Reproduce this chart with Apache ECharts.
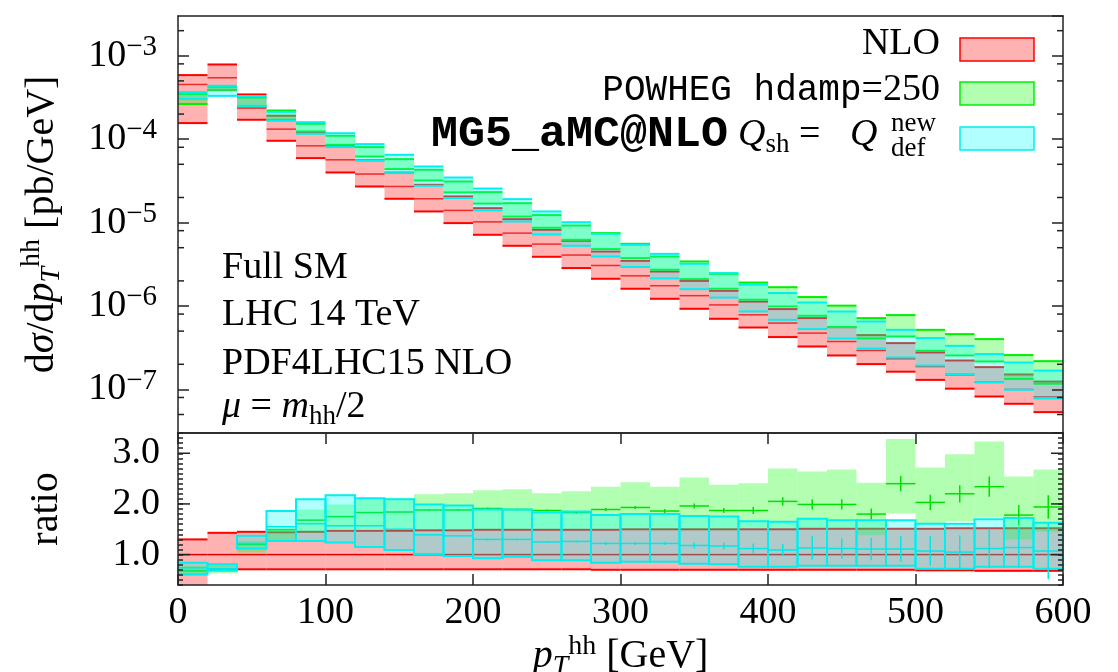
<!DOCTYPE html>
<html><head><meta charset="utf-8">
<script src="https://cdn.jsdelivr.net/npm/echarts@6/dist/echarts.min.js"></script>
<style>html,body{margin:0;padding:0;background:#fff}#c{width:1118px;height:672px}</style>
</head><body><div id="c"></div>
<script>
// ---------------- data ----------------
const binEdges = [0,20,40,60,80,100,120,140,160,180,200,220,240,260,280,300,320,340,360,380,400,420,440,460,480,500,520,540,560,580,600];

// upper panel: dsigma/dpT [pb/GeV]
const nloHi = [5.87e-4,7.87e-4,3.44e-4,1.91e-4,1.21e-4,8.33e-5,5.60e-5,3.98e-5,2.84e-5,2.06e-5,1.49e-5,1.10e-5,8.20e-6,6.05e-6,4.50e-6,3.48e-6,2.59e-6,2.00e-6,1.52e-6,1.13e-6,9.18e-7,7.16e-7,5.58e-7,4.48e-7,3.59e-7,2.77e-7,2.22e-7,1.85e-7,1.51e-7,1.24e-7];
const nloC  = [4.53e-4,5.45e-4,2.36e-4,1.32e-4,8.33e-5,5.66e-5,3.82e-5,2.71e-5,1.93e-5,1.40e-5,1.02e-5,7.48e-6,5.52e-6,4.08e-6,3.06e-6,2.30e-6,1.75e-6,1.33e-6,1.03e-6,7.84e-7,6.24e-7,4.73e-7,3.75e-7,2.93e-7,2.33e-7,1.88e-7,1.50e-7,1.22e-7,1.00e-7,8.15e-8];
const nloLo = [1.56e-4,3.87e-4,1.71e-4,9.57e-5,5.93e-5,3.99e-5,2.71e-5,1.93e-5,1.36e-5,9.86e-6,7.14e-6,5.27e-6,3.89e-6,2.85e-6,2.12e-6,1.61e-6,1.22e-6,9.26e-7,7.02e-7,5.52e-7,4.24e-7,3.27e-7,2.55e-7,2.01e-7,1.63e-7,1.30e-7,1.02e-7,8.22e-8,6.72e-8,5.34e-8];

const powHi = [3.47e-4,4.25e-4,3.16e-4,2.21e-4,1.53e-4,1.10e-4,8.04e-5,5.77e-5,4.30e-5,3.11e-5,2.32e-5,1.71e-5,1.23e-5,9.23e-6,7.48e-6,5.57e-6,3.92e-6,3.42e-6,2.43e-6,1.91e-6,1.68e-6,1.28e-6,1.01e-6,7.16e-7,7.78e-7,5.18e-7,4.60e-7,4.01e-7,2.58e-7,2.18e-7];
const powC  = [2.97e-4,4.08e-4,2.81e-4,1.96e-4,1.37e-4,9.70e-5,7.06e-5,5.07e-5,3.69e-5,2.69e-5,1.98e-5,1.42e-5,1.04e-5,7.65e-6,6.05e-6,4.59e-6,3.30e-6,2.72e-6,1.98e-6,1.52e-6,1.30e-6,1.01e-6,7.63e-7,5.48e-7,5.90e-7,3.93e-7,3.43e-7,3.07e-7,1.92e-7,1.58e-7];
const powLo = [2.64e-4,3.91e-4,2.47e-4,1.71e-4,1.24e-4,8.57e-5,6.20e-5,4.38e-5,3.20e-5,2.30e-5,1.69e-5,1.18e-5,8.66e-6,6.22e-6,4.81e-6,3.75e-6,2.72e-6,2.10e-6,1.61e-6,1.19e-6,9.86e-7,7.63e-7,5.58e-7,4.08e-7,4.31e-7,2.90e-7,2.55e-7,2.16e-7,1.33e-7,1.17e-7];

const mgHi = [3.67e-4,4.37e-4,3.27e-4,2.13e-4,1.60e-4,1.18e-4,8.73e-5,6.50e-5,4.71e-5,3.47e-5,2.56e-5,1.91e-5,1.36e-5,1.01e-5,7.34e-6,5.42e-6,4.22e-6,3.21e-6,2.48e-6,1.80e-6,1.43e-6,1.10e-6,8.59e-7,6.52e-7,5.18e-7,4.12e-7,3.33e-7,2.65e-7,2.10e-7,1.68e-7];
const mgC  = [3.31e-4,3.81e-4,2.85e-4,1.91e-4,1.33e-4,9.57e-5,6.87e-5,4.93e-5,3.54e-5,2.54e-5,1.88e-5,1.39e-5,9.95e-6,7.34e-6,5.42e-6,4.00e-6,3.03e-6,2.30e-6,1.80e-6,1.25e-6,1.01e-6,7.63e-7,5.95e-7,4.52e-7,3.52e-7,2.82e-7,2.26e-7,1.82e-7,1.46e-7,1.20e-7];
const mgLo = [3.03e-4,3.31e-4,2.51e-4,1.66e-4,1.16e-4,8.04e-5,5.55e-5,3.92e-5,2.76e-5,1.97e-5,1.40e-5,1.03e-5,7.20e-6,5.27e-6,3.92e-6,2.93e-6,2.14e-6,1.59e-6,1.26e-6,8.59e-7,6.83e-7,5.28e-7,4.08e-7,3.09e-7,2.41e-7,1.93e-7,1.53e-7,1.21e-7,9.89e-8,7.78e-8];

// lower panel: ratio to NLO central
const rNloLo = [0.34,0.71,0.71,0.71,0.71,0.71,0.71,0.71,0.71,0.71,0.71,0.71,0.71,0.71,0.70,0.70,0.70,0.70,0.70,0.70,0.70,0.70,0.70,0.70,0.70,0.69,0.69,0.68,0.68,0.68];
const rNloC  = [1,1,1,1,1,1,1,1,1,1,1,1,1,1,1,1,1,1,1,1,1,1,1,1,1,1,1,1,1,1];
const rNloHi = [1.30,1.43,1.45,1.44,1.45,1.47,1.47,1.47,1.48,1.48,1.49,1.49,1.49,1.49,1.49,1.50,1.50,1.50,1.50,1.50,1.50,1.51,1.51,1.51,1.51,1.51,1.52,1.52,1.52,1.52];

const rPowHi = [0.78,0.79,1.27,1.53,1.89,1.99,2.11,2.12,2.19,2.21,2.27,2.29,2.21,2.25,2.34,2.43,2.34,2.52,2.38,2.41,2.70,2.64,2.68,2.42,3.28,2.72,2.98,3.23,2.54,2.68];
const rPowC  = [0.68,0.71,1.20,1.49,1.68,1.75,1.83,1.84,1.88,1.88,1.91,1.89,1.87,1.83,1.89,1.93,1.86,1.96,1.87,1.87,2.05,1.99,1.99,1.80,2.40,2.03,2.20,2.34,1.78,1.94];
const rPowLo = [0.58,0.63,1.04,1.27,1.43,1.50,1.50,1.50,1.50,1.50,1.50,1.50,1.50,1.50,1.50,1.50,1.50,1.50,1.50,1.52,1.52,1.52,1.52,1.38,1.81,1.61,1.66,1.73,1.30,1.45];
const rPowErr = [0.01,0.01,0.01,0.01,0.01,0.01,0.01,0.01,0.02,0.02,0.02,0.02,0.02,0.03,0.03,0.03,0.04,0.05,0.05,0.07,0.08,0.10,0.10,0.11,0.15,0.15,0.17,0.20,0.20,0.23];

const rMgHi = [0.84,0.81,1.37,1.86,2.09,2.17,2.11,2.09,1.99,1.97,1.89,1.89,1.83,1.85,1.78,1.80,1.80,1.76,1.75,1.66,1.65,1.71,1.68,1.68,1.68,1.61,1.61,1.70,1.72,1.63];
const rMgC  = [0.74,0.72,1.22,1.55,1.61,1.57,1.57,1.50,1.39,1.37,1.30,1.30,1.25,1.26,1.22,1.22,1.22,1.18,1.17,1.12,1.09,1.13,1.12,1.11,1.11,1.07,1.05,1.12,1.14,1.07];
const rMgLo = [0.61,0.68,1.12,1.27,1.27,1.24,1.15,1.09,1.01,0.97,0.93,0.96,0.89,0.89,0.84,0.86,0.86,0.82,0.81,0.76,0.76,0.78,0.78,0.78,0.78,0.72,0.72,0.76,0.76,0.72];
const rMgErr = [0.01,0.01,0.01,0.01,0.01,0.01,0.01,0.01,0.01,0.01,0.02,0.02,0.02,0.02,0.03,0.03,0.03,0.06,0.07,0.10,0.12,0.23,0.20,0.22,0.25,0.29,0.33,0.39,0.40,0.55];

// tick positions drawn in addition to the axis' own ticks
const logMinorTicks = [2e-3,8e-4,5e-4,2e-4,8e-5,5e-5,2e-5,8e-6,5e-6,2e-6,8e-7,5e-7,2e-7,8e-8,5e-8];
const ratioMajorTicks = [1,2,3];

// ---------------- chart ----------------
const SERIF = 'Liberation Serif';
const MONO = 'Liberation Mono';
const FS = 38;

function rows(lo, c, hi, err) {
  return lo.map((v, i) => [binEdges[i], binEdges[i + 1], v, c[i], hi[i], err ? err[i] : 0]);
}

function bandRenderer(o) {
  return function (params, api) {
    const cs = params.coordSys;
    const top = cs.y, bot = cs.y + cs.height;
    const cl = y => Math.max(top, Math.min(bot, y));
    const x0 = api.value(0), x1 = api.value(1);
    const lo = api.value(2), c = api.value(3), hi = api.value(4), err = api.value(5);
    const pa = api.coord([x0, hi]), pb = api.coord([x1, lo]);
    const xa = pa[0], xb = pb[0];
    const yh = cl(pa[1]), yl = cl(pb[1]);
    const yc = api.coord([x0, c])[1];
    const ch = [];
    ch.push({type: 'rect', shape: {x: xa, y: yh, width: xb - xa, height: yl - yh},
      style: {fill: o.fill, stroke: o.box ? o.edge : null, lineWidth: o.box ? o.edgeWidth : 0}});
    if (o.edges) {
      if (pa[1] >= top) ch.push({type: 'line', shape: {x1: xa, y1: yh, x2: xb, y2: yh}, style: {stroke: o.edge, lineWidth: o.edgeWidth}});
      if (pb[1] <= bot) ch.push({type: 'line', shape: {x1: xa, y1: yl, x2: xb, y2: yl}, style: {stroke: o.edge, lineWidth: o.edgeWidth}});
    }
    if (o.center) {
      ch.push({type: 'line', shape: {x1: xa, y1: yc, x2: xb, y2: yc}, style: {stroke: o.centerColor, lineWidth: o.centerWidth}});
    }
    if (o.err && err > 0) {
      const xm = (xa + xb) / 2;
      const e1 = cl(api.coord([x0, c + err])[1]);
      const e2 = cl(api.coord([x0, c - err])[1]);
      ch.push({type: 'line', shape: {x1: xm, y1: e1, x2: xm, y2: e2}, style: {stroke: o.centerColor, lineWidth: o.centerWidth}});
    }
    return {type: 'group', children: ch};
  };
}

function band(name, gi, data, o) {
  return {
    type: 'custom', name: name, xAxisIndex: gi * 2, yAxisIndex: gi * 2,
    dimensions: ['x0', 'x1', 'lo', 'c', 'hi', 'err'],
    encode: {x: ['x0', 'x1'], y: ['lo', 'hi']},
    data: data, renderItem: bandRenderer(o), silent: true, animation: false
  };
}

const RED = {fill: 'rgba(255,0,0,0.3)', edge: '#ff0000', edgeWidth: 2};
const GRN = {fill: 'rgba(0,255,0,0.3)', edge: '#00f000', edgeWidth: 2};
const CYN = {fill: 'rgba(0,255,255,0.3)', edge: '#00f0f0', edgeWidth: 2};

const richBase = {
  sup: {fontFamily: SERIF, fontSize: 27, verticalAlign: 'top', lineHeight: 22},
  sub: {fontFamily: SERIF, fontSize: 27, verticalAlign: 'bottom', lineHeight: 22},
  subi: {fontFamily: SERIF, fontSize: 27, fontStyle: 'italic', verticalAlign: 'bottom', lineHeight: 22},
  i: {fontFamily: SERIF, fontSize: FS, fontStyle: 'italic', lineHeight: 46},
  r: {fontFamily: SERIF, fontSize: FS, lineHeight: 46}
};
const richBig = {
  sup: {fontFamily: SERIF, fontSize: 28, verticalAlign: 'top', lineHeight: 22},
  sub: {fontFamily: SERIF, fontSize: 28, verticalAlign: 'bottom', lineHeight: 22},
  subi: {fontFamily: SERIF, fontSize: 28, fontStyle: 'italic', verticalAlign: 'bottom', lineHeight: 22},
  i: {fontFamily: SERIF, fontSize: 40, fontStyle: 'italic', lineHeight: 48},
  r: {fontFamily: SERIF, fontSize: 40, lineHeight: 48}
};

function tickSeries(gi, vals, len) {
  return {
    type: 'custom', xAxisIndex: gi * 2, yAxisIndex: gi * 2, silent: true, animation: false, z: 20,
    data: vals.map(v => [0, v]), encode: {x: 0, y: 1},
    renderItem: function (params, api) {
      const cs = params.coordSys;
      const y = api.coord([0, api.value(1)])[1];
      return {type: 'group', children: [
        {type: 'line', shape: {x1: cs.x, y1: y, x2: cs.x + len, y2: y}, style: {stroke: '#222', lineWidth: 1.5}},
        {type: 'line', shape: {x1: cs.x + cs.width - len, y1: y, x2: cs.x + cs.width, y2: y}, style: {stroke: '#222', lineWidth: 1.5}}
      ]};
    }
  };
}

const axisLine = {show: true, onZero: false, lineStyle: {color: '#222', width: 1.5}};
const L = 178, R = 55;

const option = {
  backgroundColor: '#fff',
  animation: false,
  grid: [
    {left: L, right: R, top: 16, height: 417, containLabel: false, outerBoundsMode: 'none'},
    {left: L, right: R, top: 433, height: 152, containLabel: false, outerBoundsMode: 'none'}
  ],
  xAxis: [
    {gridIndex: 0, type: 'value', min: 0, max: 600, interval: 100, position: 'bottom', z: 10,
      axisLine: axisLine, axisTick: {show: false}, axisLabel: {show: false}, splitLine: {show: false}},
    {gridIndex: 0, type: 'value', min: 0, max: 600, interval: 100, position: 'top', z: 10,
      axisLine: axisLine, axisTick: {show: false}, axisLabel: {show: false}, splitLine: {show: false}},
    {gridIndex: 1, type: 'value', min: 0, max: 600, interval: 100, position: 'bottom', z: 10,
      axisLine: axisLine, axisTick: {show: true, inside: true, length: 11, lineStyle: {color: '#222', width: 1.5}},
      axisLabel: {show: true, margin: 9, color: '#000', fontFamily: SERIF, fontSize: FS},
      splitLine: {show: false},
      name: '{i|p}{subi|T}{sup|hh} [GeV]', nameLocation: 'middle', nameGap: 42,
      nameTextStyle: {color: '#000', fontFamily: SERIF, fontSize: 40, lineHeight: 48, rich: richBig}},
    {gridIndex: 1, type: 'value', min: 0, max: 600, interval: 100, position: 'top', z: 10,
      axisLine: axisLine, axisTick: {show: true, inside: true, length: 11, lineStyle: {color: '#222', width: 1.5}},
      axisLabel: {show: false}, splitLine: {show: false}}
  ],
  yAxis: [
    {gridIndex: 0, type: 'log', logBase: 10, min: 3e-8, max: 3e-3, position: 'left', z: 10,
      axisLine: axisLine, axisTick: {show: true, inside: true, length: 11, lineStyle: {color: '#222', width: 1.5}},
      splitLine: {show: false},
      axisLabel: {show: true, margin: 21, color: '#000', fontFamily: SERIF, fontSize: FS, lineHeight: 46, rich: {
          sup: {fontFamily: SERIF, fontSize: 29, verticalAlign: 'top', lineHeight: 22}},
        showMinLabel: false, showMaxLabel: false,
        formatter: function (v) {
          const e = Math.log10(v); const n = Math.round(e);
          if (Math.abs(e - n) > 0.01) return '';
          return '10{sup|−' + (-n) + '}';
        }},
      name: 'd{i|σ}/d{i|p}{subi|T}{sup|hh} [pb/GeV]', nameLocation: 'middle', nameGap: 112, nameRotate: 90,
      nameTextStyle: {color: '#000', fontFamily: SERIF, fontSize: 40, lineHeight: 48, rich: richBig}},
    {gridIndex: 0, type: 'log', logBase: 10, min: 3e-8, max: 3e-3, position: 'right', z: 10,
      axisLine: axisLine, axisTick: {show: true, inside: true, length: 11, lineStyle: {color: '#222', width: 1.5}},
      splitLine: {show: false}, axisLabel: {show: false}},
    {gridIndex: 1, type: 'value', min: 0.4, max: 3.4, interval: 0.1, position: 'left', z: 10,
      axisLine: axisLine, axisTick: {show: true, inside: true, length: 5, lineStyle: {color: '#222', width: 1.5}},
      splitLine: {show: false},
      axisLabel: {show: true, margin: 18, color: '#000', fontFamily: SERIF, fontSize: FS,
        formatter: function (v) { return Math.abs(v - Math.round(v)) < 1e-6 ? Math.round(v).toFixed(1) : ''; }},
      name: 'ratio', nameLocation: 'middle', nameGap: 112, nameRotate: 90,
      nameTextStyle: {color: '#000', fontFamily: SERIF, fontSize: 40}},
    {gridIndex: 1, type: 'value', min: 0.4, max: 3.4, interval: 0.1, position: 'right', z: 10,
      axisLine: axisLine, axisTick: {show: true, inside: true, length: 5, lineStyle: {color: '#222', width: 1.5}},
      splitLine: {show: false}, axisLabel: {show: false}}
  ],
  series: [
    band('NLO', 0, rows(nloLo, nloC, nloHi), Object.assign({}, RED, {edges: true, center: true, centerColor: 'rgba(230,0,0,0.75)', centerWidth: 1.5})),
    band('POWHEG', 0, rows(powLo, powC, powHi), Object.assign({}, GRN, {edges: true})),
    band('MG5', 0, rows(mgLo, mgC, mgHi), Object.assign({}, CYN, {edges: true})),
    band('NLO', 1, rows(rNloLo, rNloC, rNloHi), Object.assign({}, RED, {edges: true, center: true, centerColor: '#e00000', centerWidth: 1.5})),
    band('POWHEG', 1, rows(rPowLo, rPowC, rPowHi, rPowErr), Object.assign({}, GRN, {center: true, err: true, centerColor: '#00e000', centerWidth: 1.5})),
    band('MG5', 1, rows(rMgLo, rMgC, rMgHi, rMgErr), Object.assign({}, CYN, {box: true, center: true, err: true, centerColor: '#00e8e8', centerWidth: 1.5})),
    tickSeries(0, logMinorTicks, 6),
    tickSeries(1, ratioMajorTicks, 12)
  ],
  graphic: [
    {type: 'text', z: 30, style: {x: 222, y: 268, text: 'Full SM', fontFamily: SERIF, fontSize: FS, fill: '#000', verticalAlign: 'middle'}},
    {type: 'text', z: 30, style: {x: 222, y: 315, text: 'LHC 14 TeV', fontFamily: SERIF, fontSize: FS, fill: '#000', verticalAlign: 'middle'}},
    {type: 'text', z: 30, style: {x: 222, y: 364, text: 'PDF4LHC15 NLO', fontFamily: SERIF, fontSize: FS, fill: '#000', verticalAlign: 'middle'}},
    {type: 'text', z: 30, style: {x: 222, y: 407, text: '{i|μ} {r|=} {i|m}{sub|hh}{r|/2}', fontFamily: SERIF, fontSize: FS, lineHeight: 46, rich: richBase, fill: '#000', verticalAlign: 'middle'}},
    // legend
    {type: 'text', z: 30, style: {x: 940, y: 44, text: 'NLO', fontFamily: SERIF, fontSize: FS, fill: '#000', align: 'right', verticalAlign: 'middle'}},
    {type: 'rect', z: 30, shape: {x: 960, y: 38, width: 74, height: 23}, style: {fill: 'rgba(255,0,0,0.3)', stroke: '#ff0000', lineWidth: 1.5}},
    {type: 'text', z: 30, style: {x: 940, y: 90, text: '{tt|POWHEG hdamp}{r|=250}', align: 'right', verticalAlign: 'middle', fill: '#000',
      rich: {tt: {fontFamily: MONO, fontSize: 36, lineHeight: 46}, r: {fontFamily: SERIF, fontSize: FS, lineHeight: 46}}}},
    {type: 'rect', z: 30, shape: {x: 960, y: 82, width: 74, height: 23}, style: {fill: 'rgba(0,255,0,0.3)', stroke: '#00f000', lineWidth: 1.5}},
    {type: 'text', z: 30, style: {x: 728, y: 135, text: 'MG5_aMC@NLO', fontFamily: MONO, fontWeight: 'bold', fontSize: 45, fill: '#000', align: 'right', verticalAlign: 'middle'}},
    {type: 'text', z: 30, style: {x: 738, y: 135, text: '{i|Q}{sub|sh} {r|=}', fontFamily: SERIF, fontSize: FS, lineHeight: 46, rich: richBase, fill: '#000', align: 'left', verticalAlign: 'middle'}},
    {type: 'text', z: 30, style: {x: 850, y: 135, text: 'Q', fontFamily: SERIF, fontStyle: 'italic', fontSize: FS, fill: '#000', verticalAlign: 'middle'}},
    {type: 'text', z: 30, style: {x: 891, y: 124, text: 'new', fontFamily: SERIF, fontSize: 27, fill: '#000', verticalAlign: 'middle'}},
    {type: 'text', z: 30, style: {x: 891, y: 149, text: 'def', fontFamily: SERIF, fontSize: 27, fill: '#000', verticalAlign: 'middle'}},
    {type: 'rect', z: 30, shape: {x: 960, y: 127, width: 74, height: 23}, style: {fill: 'rgba(0,255,255,0.3)', stroke: '#00f0f0', lineWidth: 1.5}}
  ]
};

const chart = echarts.init(document.getElementById('c'), null, {renderer: 'canvas'});
chart.setOption(option);
</script>
</body></html>
